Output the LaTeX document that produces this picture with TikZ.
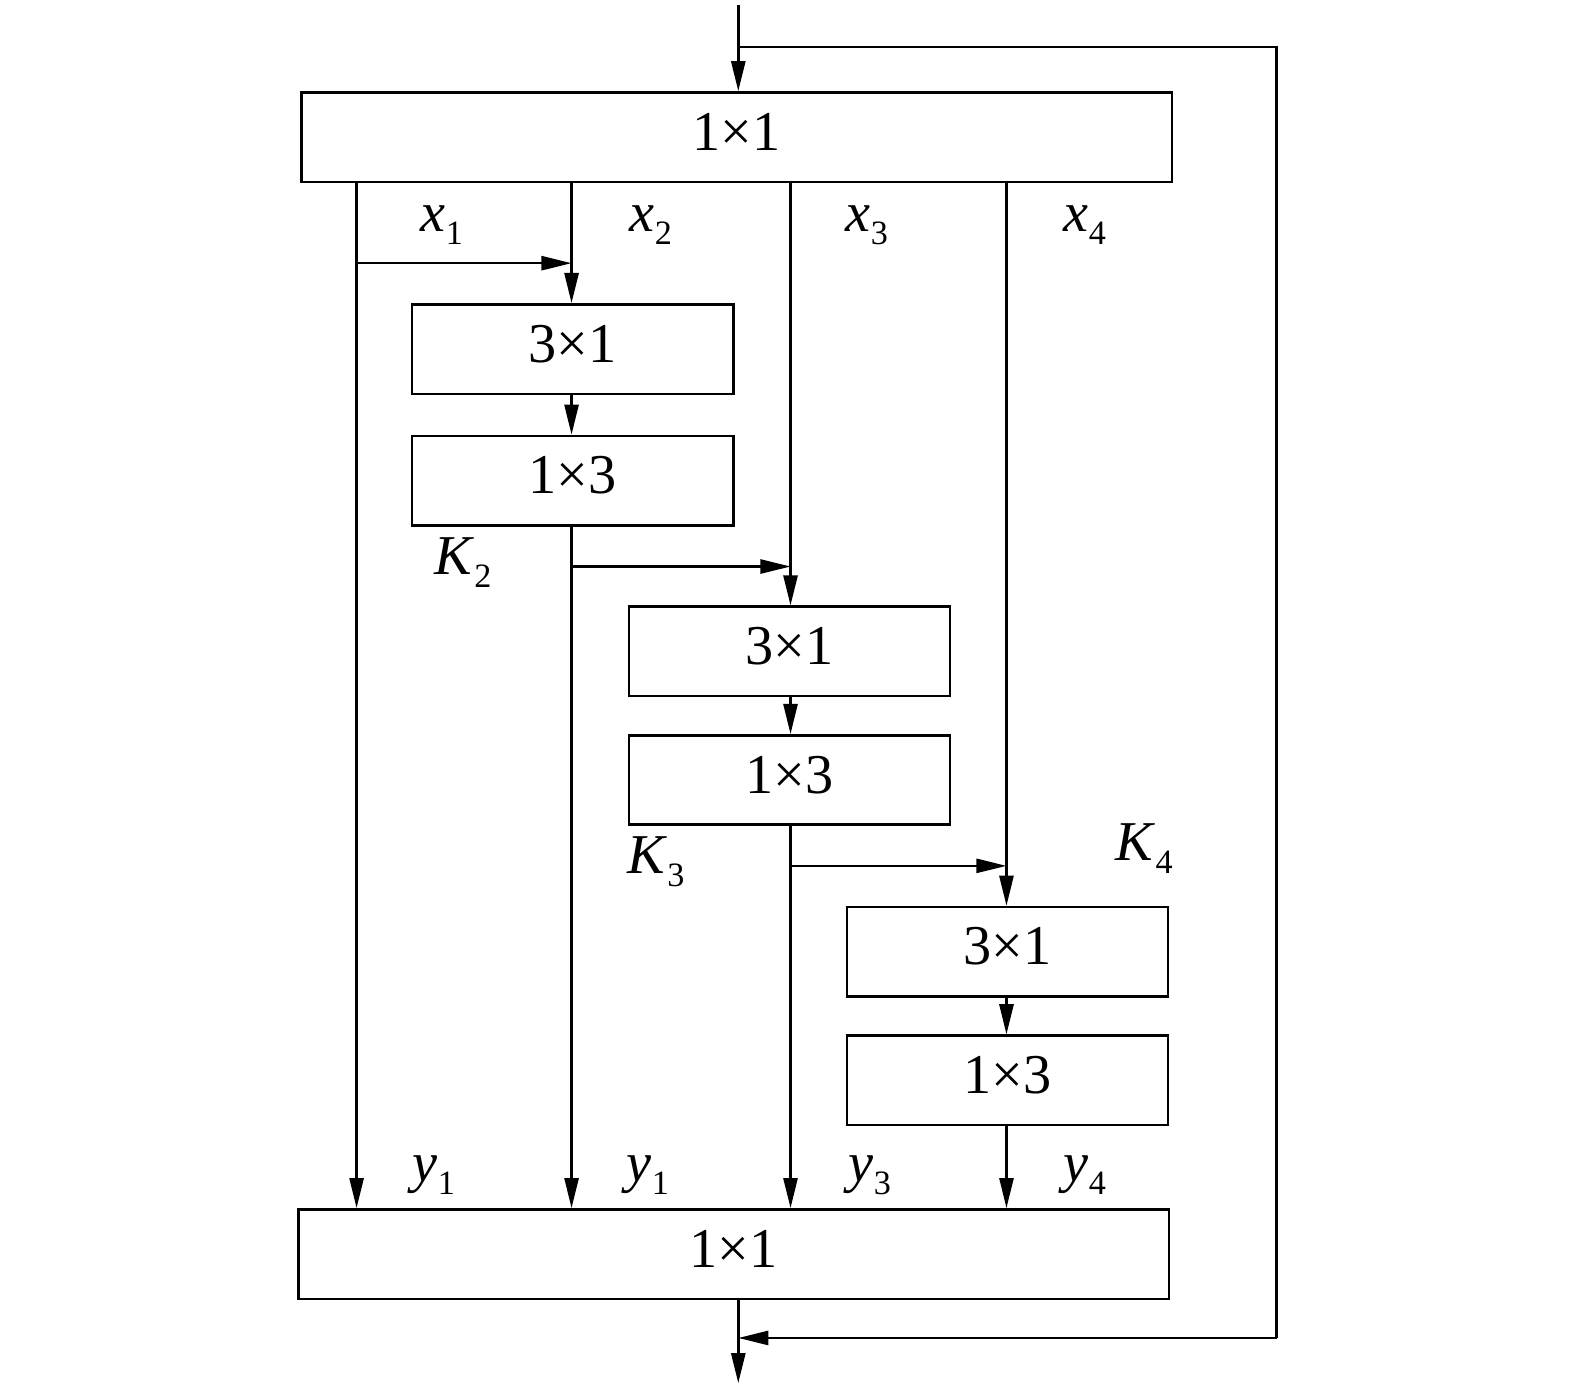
\documentclass[tikz,border=0pt]{standalone}
\usepackage{fontspec}
\setmainfont{Liberation Serif}
\usetikzlibrary{arrows.meta}
\newcommand{\lab}[2]{\textit{#1}\raisebox{-0.5ex}{\fontsize{17pt}{17pt}\selectfont #2}}
\begin{document}
\begin{tikzpicture}[x=0.5pt,y=-0.5pt,
  ln/.style={line width=1.25pt},
  arr/.style={ln,-{Triangle[length=15pt,width=7pt]}},
  blk/.style={draw,line width=1.25pt,inner sep=0pt,minimum height=44.5pt,text height=19pt,text depth=6pt,font=\fontsize{28pt}{28pt}\selectfont},
  wide/.style={blk,minimum width=433.5pt},
  narrow/.style={blk,minimum width=160pt},
  lbl/.style={font=\fontsize{28pt}{28pt}\selectfont,inner sep=0pt}]
\useasboundingbox (0,0) rectangle (1568,1382);
% boxes
\node[wide] (top) at (733.5,136.5) {1×1};
\node[wide] (bot) at (730.5,1248.5) {1×1};
\node[narrow] (a1) at (570,347.5) {3×1};
\node[narrow] (a2) at (570,478.5) {1×3};
\node[narrow] (b1) at (786,648.5) {3×1};
\node[narrow] (b2) at (786,776.5) {1×3};
\node[narrow] (c1) at (1003,947.5) {3×1};
\node[narrow] (c2) at (1003,1075.5) {1×3};
% coordinates
\coordinate (in) at (735,5);
\coordinate (out) at (735,1377);
\coordinate (fbA) at (735,47);
\coordinate (fbB) at (1271,47);
\coordinate (fbC) at (1271,1332);
\coordinate (fbD) at (735,1332);
\coordinate (v1) at (355,0);
\coordinate (v2) at (569,0);
\coordinate (v3) at (787,0);
\coordinate (v4) at (1002,0);
\coordinate (h1) at (0,262);
\coordinate (h2) at (0,564);
\coordinate (h3) at (0,862);
% input and feedback
\draw[arr] (in) -- (in |- top.north);
\draw[ln] (fbA) -- (fbB) -- (fbC);
\draw[arr] (fbC) -- (fbD);
\draw[arr] (bot.south -| out) -- (out);
% branch 1
\draw[arr] (top.south -| v1) -- (bot.north -| v1);
\draw[arr] (v1 |- h1) -- (v2 |- h1);
% branch 2
\draw[arr] (top.south -| v2) -- (a1.north -| v2);
\draw[arr] (a1.south -| v2) -- (a2.north -| v2);
\draw[arr] (a2.south -| v2) -- (bot.north -| v2);
\draw[arr] (v2 |- h2) -- (v3 |- h2);
% branch 3
\draw[arr] (top.south -| v3) -- (b1.north -| v3);
\draw[arr] (b1.south -| v3) -- (b2.north -| v3);
\draw[arr] (b2.south -| v3) -- (bot.north -| v3);
\draw[arr] (v3 |- h3) -- (v4 |- h3);
% branch 4
\draw[arr] (top.south -| v4) -- (c1.north -| v4);
\draw[arr] (c1.south -| v4) -- (c2.north -| v4);
\draw[arr] (c2.south -| v4) -- (bot.north -| v4);
% labels
\node[lbl] (x1) at (440,224) {\lab{x}{1}};
\node[lbl] (x2) at (648,224) {\lab{x}{2}};
\node[lbl] (x3) at (863,224) {\lab{x}{3}};
\node[lbl] (x4) at (1080,224) {\lab{x}{4}};
\node[lbl] (k2) at (461,560) {\lab{K}{2}};
\node[lbl] (k3) at (653,858) {\lab{K}{3}};
\node[lbl] (k4) at (1139,845) {\lab{K}{4}};
\node[lbl] (y1) at (432,1170) {\lab{y}{1}};
\node[lbl] (y2) at (645,1170) {\lab{y}{1}};
\node[lbl] (y3) at (866,1170) {\lab{y}{3}};
\node[lbl] (y4) at (1080,1170) {\lab{y}{4}};
\end{tikzpicture}
\end{document}
